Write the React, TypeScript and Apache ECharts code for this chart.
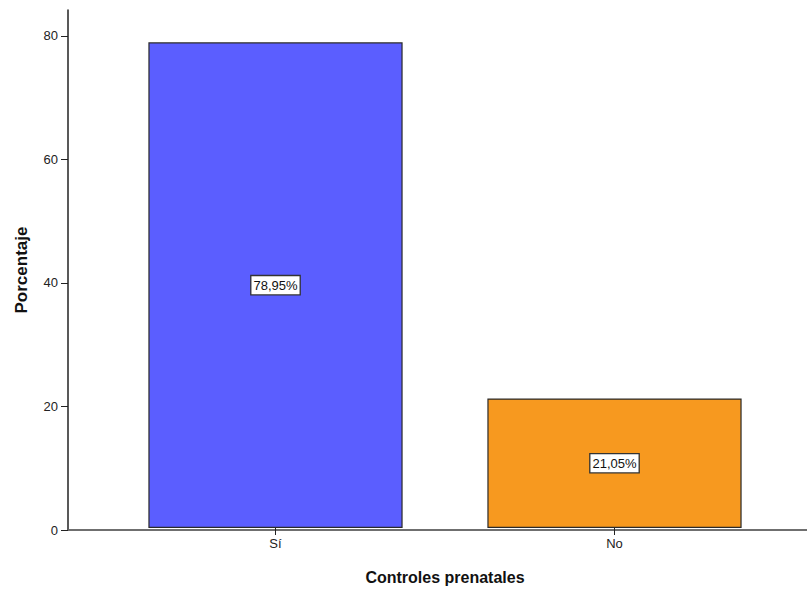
import React, { useEffect, useRef } from "react";
import * as echarts from "echarts";

const categories = ["Sí", "No"];
const percentages = [78.95, 21.05];
const barColors = ["#5B5EFF", "#F7991F"];
const yTicks = [0, 20, 40, 60, 80];

export default function App() {
  const ref = useRef<HTMLDivElement>(null);
  useEffect(() => {
    if (!ref.current) return;
    const chart = echarts.init(ref.current, undefined, { renderer: "svg" });
    const font = "Liberation Sans, Arial, sans-serif";
    const yMax = 84.2;
    chart.setOption({
      animation: false,
      backgroundColor: "#ffffff",
      grid: [
        { left: 68, top: 10, right: -20, bottom: 60 },
        { left: 106, width: 678, top: 10, bottom: 60 },
      ],
      xAxis: [
        {
          type: "value",
          gridIndex: 0,
          min: 0,
          max: 1,
          axisLine: { show: true, onZero: false, lineStyle: { color: "#222", width: 1.5 } },
          axisTick: { show: false },
          axisLabel: { show: false },
          splitLine: { show: false },
        },
        {
          type: "value",
          gridIndex: 0,
          position: "top",
          min: 0,
          max: 1,
          axisLine: { show: true, lineStyle: { color: "#777", width: 1.6 } },
          axisTick: { show: false },
          axisLabel: { show: false },
          splitLine: { show: false },
        },
        {
          type: "category",
          gridIndex: 1,
          data: categories,
          axisLine: { show: false },
          axisTick: { show: true, alignWithLabel: true, length: 7, lineStyle: { color: "#222" } },
          axisLabel: { color: "#222", fontSize: 13, fontFamily: font, margin: 9 },
          name: "Controles prenatales",
          nameLocation: "middle",
          nameGap: 41,
          nameTextStyle: { fontSize: 16, fontWeight: "bold", color: "#111", fontFamily: font },
        },
      ],
      yAxis: [
        {
          type: "value",
          gridIndex: 0,
          min: 0,
          max: yMax,
          interval: 20,
          axisLine: { show: true, lineStyle: { color: "#222", width: 1.5 } },
          axisTick: { show: true, length: 7, lineStyle: { color: "#222" } },
          axisLabel: {
            color: "#222",
            fontSize: 13,
            fontFamily: font,
            margin: 10,
            showMaxLabel: false,
            formatter: (v: number) => (yTicks.includes(v) ? String(v) : ""),
          },
          splitLine: { show: false },
          name: "Porcentaje",
          nameLocation: "middle",
          nameGap: 38,
          nameTextStyle: { fontSize: 17, fontWeight: "bold", color: "#111", fontFamily: font },
        },
        {
          type: "value",
          gridIndex: 1,
          min: 0,
          max: yMax,
          show: false,
        },
      ],
      series: [
        {
          type: "bar",
          xAxisIndex: 2,
          yAxisIndex: 1,
          barCategoryGap: "25%",
          data: percentages.map((v, i) => ({
            value: v,
            itemStyle: { color: barColors[i], borderColor: "#2a2a2a", borderWidth: 1.2 },
          })),
          label: {
            show: true,
            position: "inside",
            formatter: (p: any) => p.value.toFixed(2).replace(".", ",") + "%",
            color: "#111",
            fontSize: 13,
            fontFamily: font,
            backgroundColor: "#ffffff",
            borderColor: "#333",
            borderWidth: 1.3,
            padding: [3, 2, 2, 2],
          },
        },
      ],
    });
    return () => chart.dispose();
  }, []);
  return <div ref={ref} style={{ width: 807, height: 590, position: "absolute", left: 0, top: 0 }} />;
}
